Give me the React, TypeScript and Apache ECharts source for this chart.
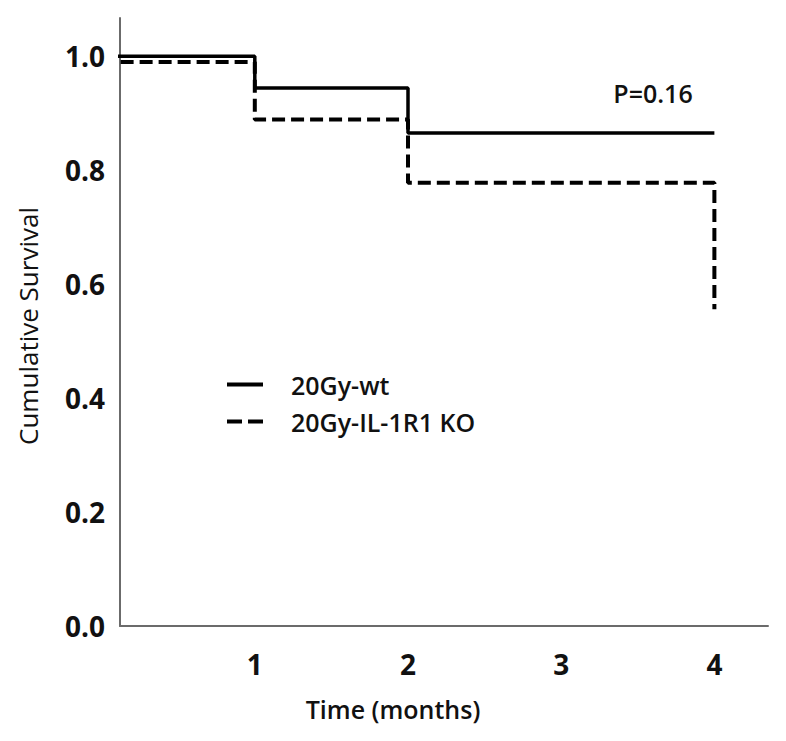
import React, { useEffect, useRef } from "react";
import * as echarts from "echarts";

const seriesNames = ["20Gy-wt", "20Gy-IL-1R1 KO"];
const wtTimes = [0, 1, 2, 4];
const wtSurvival = [1.0, 0.944, 0.865, 0.865];
const koTimes = [0, 1, 2, 4, 4];
const koSurvival = [0.99, 0.889, 0.778, 0.778, 0.556];
const xTicks = [1, 2, 3, 4];
const yTicks = [0, 0.2, 0.4, 0.6, 0.8, 1.0];
const pValueText = "P=0.16";
const xTitle = "Time (months)";
const yTitle = "Cumulative Survival";

const FONT = "'Open Sans', 'Liberation Sans', sans-serif";
const SOLID_ICON = "path://M0,0H36V4H0Z";
const DASH_ICON = "path://M0,0H15V4H0Z M21,0H36V4H21Z";

export default function App() {
  const ref = useRef<HTMLDivElement>(null);
  useEffect(() => {
    document.body.style.margin = "0";
    if (!ref.current) return;
    const chart = echarts.init(ref.current, null, { renderer: "svg" });
    const wtData = wtTimes.map((t, i) => [t, wtSurvival[i]]);
    const koData = koTimes.map((t, i) => [t, koSurvival[i]]);
    chart.setOption({
      animation: false,
      backgroundColor: "#ffffff",
      grid: { left: 120, right: 18, top: 18, bottom: 115, containLabel: false },
      xAxis: {
        type: "value",
        min: 0.12,
        max: 4.35,
        axisLine: { show: true, onZero: false, lineStyle: { color: "#6b6b6b", width: 2 } },
        axisTick: { show: false },
        splitLine: { show: false },
        axisLabel: {
          customValues: xTicks,
          margin: 24,
          fontFamily: FONT,
          fontWeight: "bold",
          fontSize: 28,
          color: "#111",
          formatter: (v: number) => String(v),
        },
      },
      yAxis: {
        type: "value",
        min: 0,
        max: 1.067,
        axisLine: { show: true, lineStyle: { color: "#6b6b6b", width: 2 } },
        axisTick: { show: false },
        splitLine: { show: false },
        axisLabel: {
          customValues: yTicks,
          margin: 15,
          fontFamily: FONT,
          fontWeight: "bold",
          fontSize: 28,
          color: "#111",
          formatter: (v: number) => v.toFixed(1),
        },
      },
      legend: {
        show: true,
        orient: "vertical",
        left: 222,
        top: 367,
        itemWidth: 36,
        itemHeight: 4,
        itemGap: 12,
        data: [
          { name: seriesNames[0], icon: SOLID_ICON },
          { name: seriesNames[1], icon: DASH_ICON },
        ],
        itemStyle: { color: "#000", borderWidth: 0 },
        textStyle: {
          fontFamily: FONT,
          fontWeight: 600,
          fontSize: 25,
          color: "#111",
          padding: [0, 0, 0, 23],
        },
      },
      series: [
        {
          name: seriesNames[0],
          type: "line",
          step: "end",
          symbol: "none",
          data: wtData,
          lineStyle: { color: "#000", width: 3.5, type: "solid" },
          itemStyle: { color: "#000" },
        },
        {
          name: seriesNames[1],
          type: "line",
          step: "end",
          symbol: "none",
          data: koData,
          lineStyle: { color: "#000", width: 4, type: [13, 6] },
          itemStyle: { color: "#000" },
        },
      ],
      graphic: [
        {
          type: "text",
          x: 653,
          y: 93,
          style: {
            text: pValueText,
            fontFamily: FONT,
            fontWeight: 600,
            fontSize: 25,
            fill: "#111",
            textAlign: "center",
            textVerticalAlign: "middle",
          },
        },
        {
          type: "text",
          x: 393,
          y: 709,
          style: {
            text: xTitle,
            fontFamily: FONT,
            fontWeight: 600,
            fontSize: 25,
            fill: "#111",
            textAlign: "center",
            textVerticalAlign: "middle",
          },
        },
        {
          type: "text",
          x: 28,
          y: 326,
          rotation: Math.PI / 2,
          style: {
            text: yTitle,
            fontFamily: FONT,
            fontWeight: "normal",
            fontSize: 26,
            fill: "#111",
            textAlign: "center",
            textVerticalAlign: "middle",
          },
        },
      ],
    });
    return () => chart.dispose();
  }, []);
  return <div ref={ref} style={{ width: 786, height: 741 }} />;
}
